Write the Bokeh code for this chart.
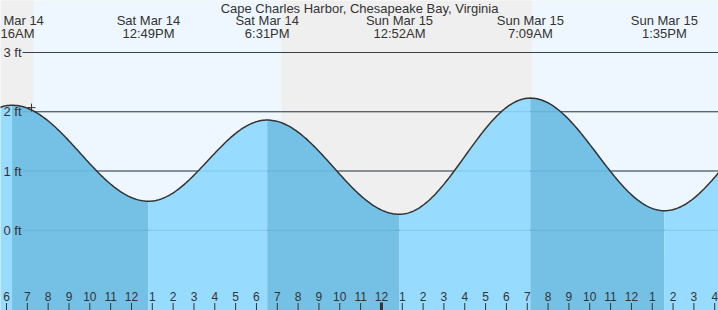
import numpy as np
from bokeh.plotting import figure
from bokeh.models import Range1d, ColumnDataSource, LabelSet, Label
from bokeh.core.properties import value
from bokeh.embed import file_html
from bokeh.resources import INLINE

# ---------------- data ----------------
title = "Cape Charles Harbor, Chesapeake Bay, Virginia"
# tide extremes, hours since Sat Mar 14 00:00 (first / last lie outside the view)
ext_hours = [-0.1, 6 + 16/60, 12 + 49/60, 18 + 31/60, 24 + 52/60, 31 + 9/60, 37 + 35/60, 43.8]
ext_heights = [0.40, 2.11, 0.49, 1.86, 0.27, 2.23, 0.33, 2.05]
ext_dates = ["", "Sat Mar 14", "Sat Mar 14", "Sat Mar 14", "Sun Mar 15", "Sun Mar 15", "Sun Mar 15", ""]
ext_times = ["", "6:16AM", "12:49PM", "6:31PM", "12:52AM", "7:09AM", "1:35PM", ""]
sun_hours = [7.29, 19.2, 31.24]          # sunrise, sunset, sunrise
ft_levels = [0, 1, 2, 3]
ft_labels = ["0 ft", "1 ft", "2 ft", "3 ft"]
hour_ticks = list(range(6, 41))
hour_labels = [str((h - 1) % 12 + 1) for h in hour_ticks]
midnight = [24]
now_hour = [7.2]
now_height = [2.07]

# ---------------- layout ----------------
W, H = 718, 310
PXH = 20.83            # px per hour
PXF = 59.25            # px per foot
xmin = 6 - 6 / PXH
xmax = xmin + W / PXH
ymax = 229.75 / PXF
ymin = ymax - H / PXF
FONT = value("Liberation Sans")
TXT = "#333333"
LIGHT = "#97dbff"
DARK = "#74c1e5"
DAY = "#eef7ff"
NIGHT = "#efefef"

p = figure(width=W, height=H, x_range=Range1d(xmin, xmax), y_range=Range1d(ymin, ymax),
           output_backend="svg", toolbar_location=None, min_border=0)
p.axis.visible = False
p.grid.visible = False
p.outline_line_color = None
p.background_fill_color = NIGHT

# sky (night / day)
bounds = [xmin] + sun_hours + [xmax]
lefts = bounds[:-1]
rights = bounds[1:]
colors = [NIGHT if i % 2 == 0 else DAY for i in range(len(lefts))]
p.quad(left=lefts, right=rights, bottom=ymin, top=ymax, fill_color=colors, line_color=None)

# grid lines (under the water)
gx0 = xmin + 22 / PXH
p.segment(x0=[gx0] * len(ft_levels), x1=[xmax] * len(ft_levels), y0=ft_levels, y1=ft_levels,
          line_color=TXT, line_width=1)

# water, per segment between extremes
cx, cy = [], []
for i in range(len(ext_hours) - 1):
    h0, h1 = ext_hours[i], ext_hours[i + 1]
    v0, v1 = ext_heights[i], ext_heights[i + 1]
    t = np.linspace(h0, h1, 80)
    v = v0 + (v1 - v0) * (1 - np.cos(np.pi * (t - h0) / (h1 - h0))) / 2
    p.varea(x=t, y1=ymin, y2=v, fill_color=DARK if v1 < v0 else LIGHT)
    cx.extend(t.tolist())
    cy.extend(v.tolist())

# faint grid lines over the water
p.segment(x0=[gx0] * len(ft_levels), x1=[xmax] * len(ft_levels), y0=ft_levels, y1=ft_levels,
          line_color="#2b7fb0", line_alpha=0.22, line_width=1)

# tide curve
p.line(cx, cy, line_color=TXT, line_width=1.5)

# now marker
p.scatter(now_hour, now_height, marker="cross", size=8, line_color=TXT, line_width=1)

# y labels
p.add_layout(LabelSet(source=ColumnDataSource(dict(x=[3] * 4, y=ft_levels, t=ft_labels)),
                      x="x", y="y", text="t", x_units="screen", text_align="left",
                      text_baseline="middle", text_font=FONT, text_font_size="13px",
                      text_color=TXT))

# hour ticks and labels
tick_y0 = ymin
tick_y1 = ymin + 7.5 / PXF
p.segment(x0=hour_ticks, x1=hour_ticks, y0=[tick_y0] * len(hour_ticks), y1=[tick_y1] * len(hour_ticks),
          line_color=TXT, line_width=1)
p.segment(x0=midnight, x1=midnight, y0=[tick_y0], y1=[ymin + 8 / PXF], line_color=TXT, line_width=3)
p.add_layout(LabelSet(source=ColumnDataSource(dict(x=hour_ticks, y=[14] * len(hour_ticks), t=hour_labels)),
                      x="x", y="y", text="t", y_units="screen", text_align="center",
                      text_baseline="middle", text_font=FONT, text_font_size="12px",
                      text_color=TXT))

# extreme labels at top
ext_src = ColumnDataSource(dict(x=ext_hours, yd=[H - 20] * len(ext_hours), yt=[H - 32.5] * len(ext_hours),
                                d=ext_dates, t=ext_times))
p.add_layout(LabelSet(source=ext_src, x="x", y="yd", text="d", y_units="screen", text_align="center",
                      text_baseline="middle", text_font=FONT, text_font_size="13px", text_color=TXT))
p.add_layout(LabelSet(source=ext_src, x="x", y="yt", text="t", y_units="screen", text_align="center",
                      text_baseline="middle", text_font=FONT, text_font_size="13px", text_color=TXT))

# title
p.add_layout(Label(x=359, y=H - 8, x_units="screen", y_units="screen", text=title,
                   text_align="center", text_baseline="middle", text_font="Liberation Sans",
                   text_font_size="13px", text_color=TXT))

open("out.html", "w").write(file_html(p, INLINE))
